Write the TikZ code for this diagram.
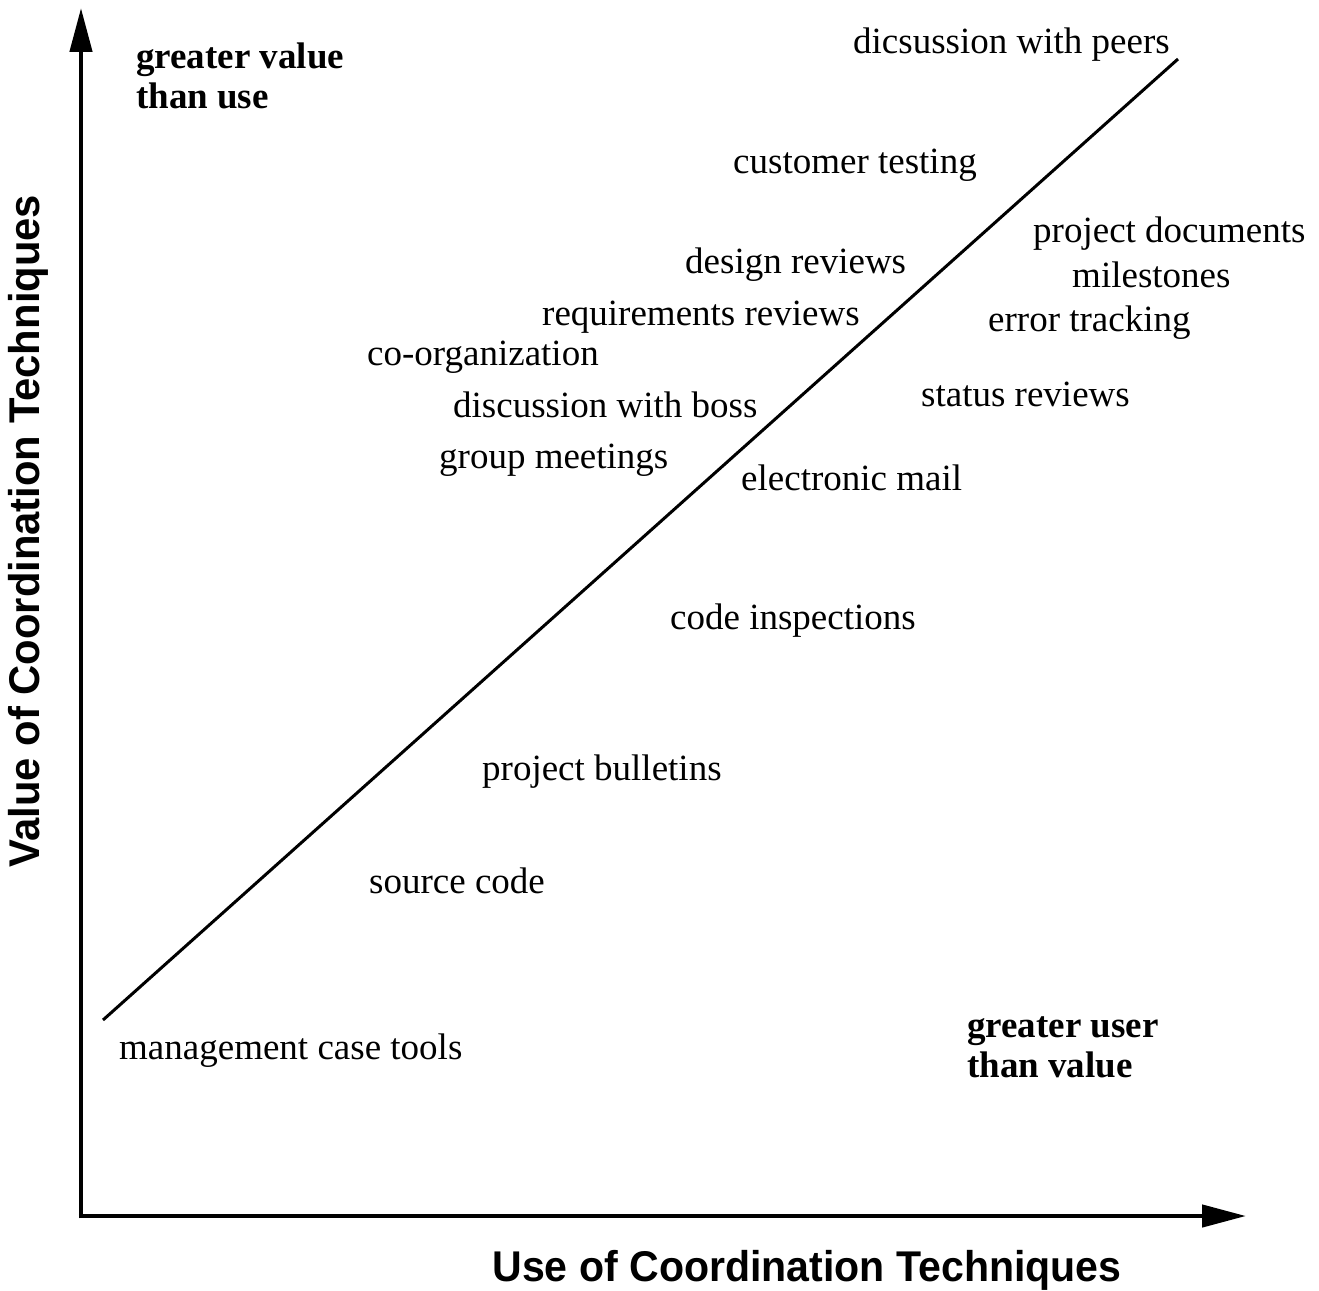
\documentclass[tikz,border=0pt]{standalone}
\usepackage{fontspec}
\usepackage{graphicx}
\setmainfont{Liberation Serif}
\newfontfamily\axisfont{Liberation Sans}
\usetikzlibrary{arrows.meta}
\tikzset{
  lbl/.style={anchor=base west, inner sep=0pt, font=\fontsize{37}{40}\selectfont},
  blbl/.style={anchor=base west, inner sep=0pt, align=left, font=\fontsize{37}{40}\selectfont\bfseries},
  axisline/.style={line width=4.5pt, -{Triangle[length=44pt,width=22pt]}},
  diag/.style={line width=3pt},
  axtitle/.style={inner sep=0pt, font=\axisfont\bfseries\fontsize{43}{45}\selectfont}
}
\begin{document}
\begin{tikzpicture}[x=1pt,y=-1pt]
\useasboundingbox (0,0) rectangle (1319,1290);
\coordinate (O) at (81,1216);
\coordinate (ytop) at (81,8);
\coordinate (xend) at (1246,1216);
\coordinate (d1) at (103,1020);
\coordinate (d2) at (1178,59);
\draw[axisline] ([yshift=-2.25pt]O) -- (ytop);
\draw[axisline] ([xshift=-2.25pt]O) -- (xend);
\draw[diag] (d1) -- (d2);

\node[axtitle, anchor=center] (xt) at (807,1270) {\resizebox{629pt}{\height}{Use of Coordination Techniques}};
\node[axtitle, anchor=center, rotate=90] (yt) at (28,531) {\resizebox{672pt}{\height}{Value of Coordination Techniques}};

\node[blbl] (gv) at (136,108) {greater value\\than use};
\node[blbl] (gu) at (967,1077) {greater user\\than value};

\node[lbl] (peers) at (853,53) {dicsussion with peers};
\node[lbl] (cust) at (733,173) {customer testing};
\node[lbl] (pdoc) at (1033,242) {project documents};
\node[lbl] (mile) at (1072,287) {milestones};
\node[lbl] (desr) at (685,273) {design reviews};
\node[lbl] (reqr) at (542,325) {requirements reviews};
\node[lbl] (errt) at (988,331) {error tracking};
\node[lbl] (coorg) at (367,365) {co-organization};
\node[lbl] (stat) at (921,406) {status reviews};
\node[lbl] (boss) at (453,417) {discussion with boss};
\node[lbl] (grp) at (439,468) {group meetings};
\node[lbl] (mail) at (741,490) {electronic mail};
\node[lbl] (code) at (670,629) {code inspections};
\node[lbl] (bull) at (482,780) {project bulletins};
\node[lbl] (src) at (369,893) {source code};
\node[lbl] (mct) at (119,1059) {management case tools};
\end{tikzpicture}
\end{document}
